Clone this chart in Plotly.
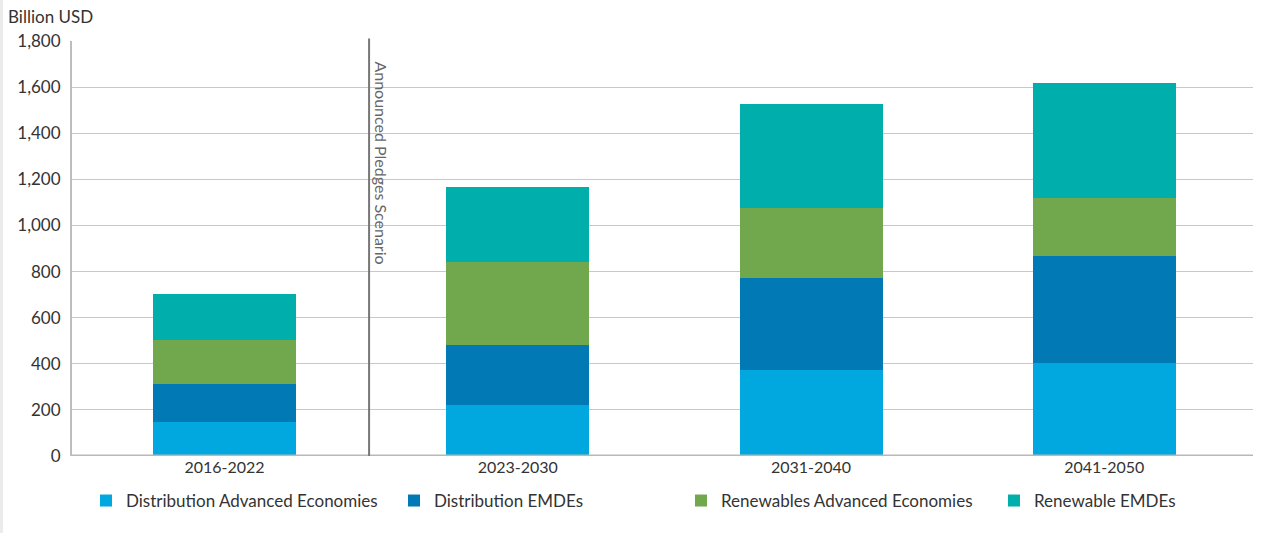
import plotly.graph_objects as go

categories = ["2016-2022", "2023-2030", "2031-2040", "2041-2050"]
dist_adv = [149, 221, 373, 405]
dist_emde = [163, 260, 399, 464]
ren_adv = [191, 360, 303, 251]
ren_emde = [199, 325, 452, 497]

series = [
    ("Distribution Advanced Economies", dist_adv, "#00A8DF"),
    ("Distribution EMDEs", dist_emde, "#0079B4"),
    ("Renewables Advanced Economies", ren_adv, "#71A84D"),
    ("Renewable EMDEs", ren_emde, "#00AFAC"),
]

FONT = "Lato"
legend_ids = ["legend", "legend2", "legend3", "legend4"]
legend_px = [86, 394, 681, 994]

fig = go.Figure()
for (name, vals, color), lid in zip(series, legend_ids):
    fig.add_trace(go.Bar(x=categories, y=vals, name=name, legend=lid,
                         marker=dict(color=color, line=dict(width=0)), width=0.4876))

layout_legends = {}
for lid, px in zip(legend_ids, legend_px):
    layout_legends[lid] = dict(orientation="h", x=(px - 72) / 1181, xanchor="left", y=-0.065, yanchor="top",
                               font=dict(family=FONT, size=17, color="#333333"),
                               bgcolor="rgba(0,0,0,0)", itemsizing="constant")

fig.update_layout(
    barmode="stack",
    width=1265, height=533,
    margin=dict(l=72, r=12, t=41, b=77, autoexpand=False),
    paper_bgcolor="white", plot_bgcolor="white",
    font=dict(family=FONT, size=16, color="#333333"),
    showlegend=True,
    xaxis=dict(range=[-0.52, 3.507], showgrid=False, showline=False, ticks="",
               tickfont=dict(size=16, color="#333333"), zeroline=False),
    yaxis=dict(range=[0, 1800], tickvals=[0, 200, 400, 600, 800, 1000, 1200, 1400, 1600, 1800],
               ticktext=["0", "200", "400", "600", "800", "1,000", "1,200", "1,400", "1,600", "1,800"],
               showgrid=True, gridcolor="#C8C8C8", gridwidth=1, zeroline=False,
               showline=True, linecolor="#BDBDBD", linewidth=2, ticks="", ticklen=0,
               ticklabelstandoff=6,
               tickfont=dict(size=17, color="#333333")),
    **layout_legends,
)

# x-axis baseline
fig.add_shape(type="line", xref="paper", yref="y", x0=0, x1=1, y0=0, y1=0,
              line=dict(color="#B8B8B8", width=3))
# scenario divider
fig.add_shape(type="line", xref="x", yref="paper", x0=0.493, x1=0.493, y0=0, y1=1.006,
              line=dict(color="#777777", width=2))
fig.add_annotation(x=0.493, xref="x", xshift=12, y=1800, yref="y", yanchor="top", yshift=-18,
                   text="Announced Pledges Scenario", textangle=90, showarrow=False,
                   font=dict(family=FONT, size=16, color="#666666"))
fig.add_annotation(x=0, xref="paper", xshift=-66, xanchor="left", y=1, yref="paper", yshift=25,
                   yanchor="middle", text="Billion USD", showarrow=False,
                   font=dict(family=FONT, size=17, color="#333333"))
# light frame strip on the left edge
fig.add_shape(type="rect", xref="paper", yref="paper", x0=-72/1181, x1=-69/1181, y0=-77/415, y1=456/415,
              line=dict(width=0), fillcolor="#EBEBEB", layer="below")

fig.write_html("out.html")
